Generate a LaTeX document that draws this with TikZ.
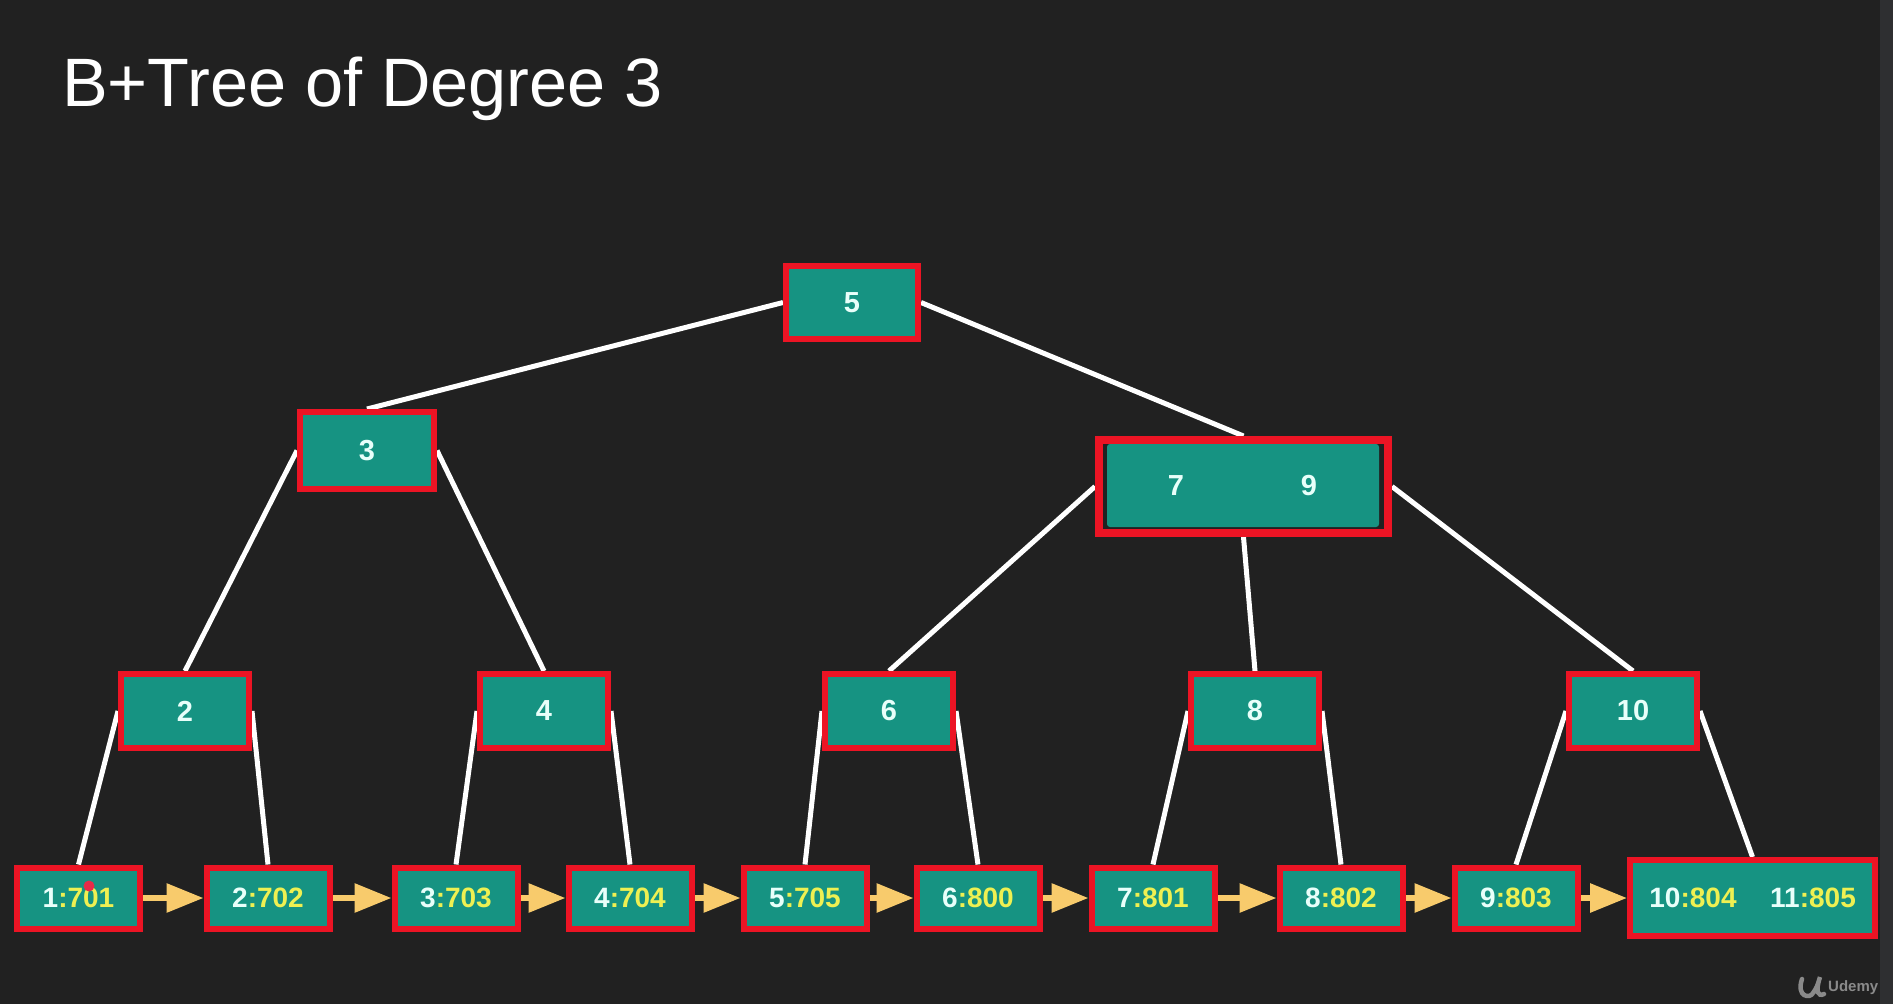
\documentclass[tikz,border=0pt]{standalone}
\usepackage{fontspec}
\setmainfont{Liberation Sans}
\usetikzlibrary{arrows.meta,backgrounds}
\definecolor{bgc}{HTML}{212121}
\definecolor{stripc}{HTML}{2E2F31}
\definecolor{tealc}{HTML}{169382}
\definecolor{redc}{HTML}{EC1424}
\definecolor{keyc}{HTML}{E8FFFA}
\definecolor{valc}{HTML}{EEF052}
\definecolor{arrc}{HTML}{F8CB6C}
\definecolor{dotc}{HTML}{E62A48}
\definecolor{logoc}{HTML}{8A8A8A}
\newcommand{\lfv}[2]{{\color{keyc}#1}{\color{valc}:#2}}
\tikzset{
  x=1pt, y=-1pt,
  inode/.style={draw=redc, line width=6pt, fill=tealc, minimum width=128pt, minimum height=74pt,
    inner sep=0pt, text=keyc, font=\bfseries\fontsize{29}{34}\selectfont},
  leafnode/.style={draw=redc, line width=6pt, fill=tealc, minimum width=123pt, minimum height=61pt,
    inner sep=0pt, font=\bfseries\fontsize{28}{34}\selectfont},
  keytext/.style={text=keyc, inner sep=0pt, font=\bfseries\fontsize{29}{34}\selectfont},
  leaftext/.style={inner sep=0pt, font=\bfseries\fontsize{28}{34}\selectfont},
  edge/.style={draw=white, line width=5pt},
  nextarrow/.style={draw=arrc, line width=6pt, -{Triangle[length=37pt,width=28pt]}}
}
\begin{document}
\begin{tikzpicture}
\useasboundingbox (0,0) rectangle (1893,1004);
% title
\node[anchor=base west, inner sep=0pt, text=white, font=\fontsize{68.5}{80}\selectfont] (title) at (62,106) {B+Tree of Degree 3};
% internal nodes
\node[inode, minimum width=132pt, minimum height=73pt] (root) at (852,302.5) {5};
\node[inode, minimum width=134pt, minimum height=77pt] (n3) at (367,450.5) {3};
\node[draw=redc, line width=8pt, fill=bgc, minimum width=289pt, minimum height=93pt, inner sep=0pt] (n79) at (1243.5,486.5) {};
\node[fill=tealc, rounded corners=3pt, minimum width=272pt, minimum height=83pt, inner sep=0pt] (n79in) at (1243,485.5) {};
\node[keytext] (k7) at (1176,486) {7};
\node[keytext] (k9) at (1309,486) {9};
\node[inode] (n2) at (185,711) {2};
\node[inode] (n4) at (544,711) {4};
\node[inode] (n6) at (889,711) {6};
\node[inode] (n8) at (1255,711) {8};
\node[inode] (n10) at (1633,711) {10};
% leaves
\node[leafnode] (l1) at (78.5,898) {\lfv{1}{701}};
\node[leafnode] (l2) at (268,898) {\lfv{2}{702}};
\node[leafnode] (l3) at (456,898) {\lfv{3}{703}};
\node[leafnode] (l4) at (630,898) {\lfv{4}{704}};
\node[leafnode] (l5) at (805,898) {\lfv{5}{705}};
\node[leafnode] (l6) at (978,898) {\lfv{6}{800}};
\node[leafnode] (l7) at (1153,898) {\lfv{7}{801}};
\node[leafnode] (l8) at (1341,898) {\lfv{8}{802}};
\node[leafnode] (l9) at (1516,898) {\lfv{9}{803}};
\node[leafnode, minimum width=245pt, minimum height=76pt] (l10) at (1752.5,898) {};
\node[leaftext] (t10) at (1693,898) {\lfv{10}{804}};
\node[leaftext] (t11) at (1813,898) {\lfv{11}{805}};
% red pointer dot
\node[circle, fill=dotc, minimum size=11pt, inner sep=0pt] (dot) at (89,886) {};
% logo
\node[anchor=west, inner sep=0pt, text=logoc, font=\bfseries\fontsize{15}{17}\selectfont] (udemy) at (1828,988) {Udemy};
\coordinate (u1) at (1802,979);
\coordinate (u2) at (1813,993);
\coordinate (u3) at (1820,977);
\draw[draw=logoc, line width=4.5pt, line cap=round] (u1) .. controls (1796,997) and (1810,999) .. (u2) .. controls (1817,987) .. (u3) .. controls (1815,992) and (1818,997) .. (1824,994);
\begin{scope}[on background layer]
\fill[bgc] (0,0) rectangle (1880,1004);
\fill[stripc] (1880,0) rectangle (1893,1004);
\draw[edge] (root.west) -- (n3.north);
\draw[edge] (root.east) -- (n79.north);
\draw[edge] (n3.west) -- (n2.north);
\draw[edge] (n3.east) -- (n4.north);
\draw[edge] (n79.west) -- (n6.north);
\draw[edge] (n79.south) -- (n8.north);
\draw[edge] (n79.east) -- (n10.north);
\draw[edge] (n2.west) -- (l1.north);
\draw[edge] (n2.east) -- (l2.north);
\draw[edge] (n4.west) -- (l3.north);
\draw[edge] (n4.east) -- (l4.north);
\draw[edge] (n6.west) -- (l5.north);
\draw[edge] (n6.east) -- (l6.north);
\draw[edge] (n8.west) -- (l7.north);
\draw[edge] (n8.east) -- (l8.north);
\draw[edge] (n10.west) -- (l9.north);
\draw[edge] (n10.east) -- (l10.north);
\draw[nextarrow] (l1.east) -- (l2.west);
\draw[nextarrow] (l2.east) -- (l3.west);
\draw[nextarrow] (l3.east) -- (l4.west);
\draw[nextarrow] (l4.east) -- (l5.west);
\draw[nextarrow] (l5.east) -- (l6.west);
\draw[nextarrow] (l6.east) -- (l7.west);
\draw[nextarrow] (l7.east) -- (l8.west);
\draw[nextarrow] (l8.east) -- (l9.west);
\draw[nextarrow] (l9.east) -- (l10.west);
\end{scope}
\end{tikzpicture}
\end{document}
